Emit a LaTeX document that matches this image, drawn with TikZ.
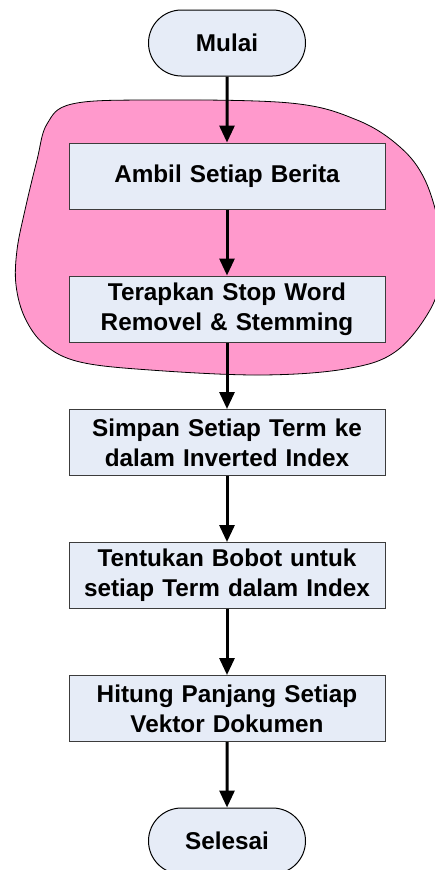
\documentclass[tikz,border=0pt]{standalone}
\usepackage{fontspec}
\setmainfont{Liberation Sans}
\usetikzlibrary{arrows.meta,shapes.misc}
\definecolor{boxfill}{RGB}{230,236,247}
\definecolor{blobpink}{RGB}{255,153,204}
\definecolor{edgegray}{RGB}{60,60,60}
\tikzset{
  procbox/.style={draw=edgegray, line width=1pt, fill=boxfill, minimum width=316pt, minimum height=66pt, inner sep=0pt, text width=310pt, align=center, font=\fontsize{24.3pt}{30pt}\selectfont\bfseries},
  termbox/.style={draw=black, line width=1pt, fill=boxfill, rounded rectangle, minimum width=157pt, minimum height=66pt, inner sep=0pt, font=\fontsize{24.3pt}{30pt}\selectfont\bfseries},
  flow/.style={line width=3pt, -{Triangle[length=17pt,width=15pt]}}
}
\begin{document}
\begin{tikzpicture}[x=1pt,y=-1pt]
\useasboundingbox (0,0) rectangle (435,870);
\clip (0,0) rectangle (435,870);
\fill[white] (0,0) rectangle (435,870);
% pink blob
\draw[fill=blobpink, draw=black, line width=0.8pt] plot[smooth cycle, tension=0.6] coordinates {
 (150,100) (290,103) (357,120) (400,147) (425,180) (440,230) (442,270) (430,310) (395,352) (345,369) (260,375) (150,370) (80,362) (45,345) (25,318) (16,285) (17,250) (25,210) (37,160) (47,124) (72,104)};
\node[termbox] (start) at (227,43) {Mulai};
\node[procbox] (b1) at (227,176) {Ambil Setiap Berita};
\node[procbox] (b2) at (227,309) {Terapkan Stop Word\\Removel \& Stemming};
\node[procbox] (b3) at (227,442.5) {Simpan Setiap Term ke\\dalam Inverted Index};
\node[procbox] (b4) at (227,575.5) {Tentukan Bobot untuk\\setiap Term dalam Index};
\node[procbox] (b5) at (227,708.5) {Hitung Panjang Setiap\\Vektor Dokumen};
\node[termbox] (end) at (227,841) {Selesai};
\draw[flow] (start) -- (b1);
\draw[flow] (b1) -- (b2);
\draw[flow] (b2) -- (b3);
\draw[flow] (b3) -- (b4);
\draw[flow] (b4) -- (b5);
\draw[flow] (b5) -- (end);
\end{tikzpicture}
\end{document}
